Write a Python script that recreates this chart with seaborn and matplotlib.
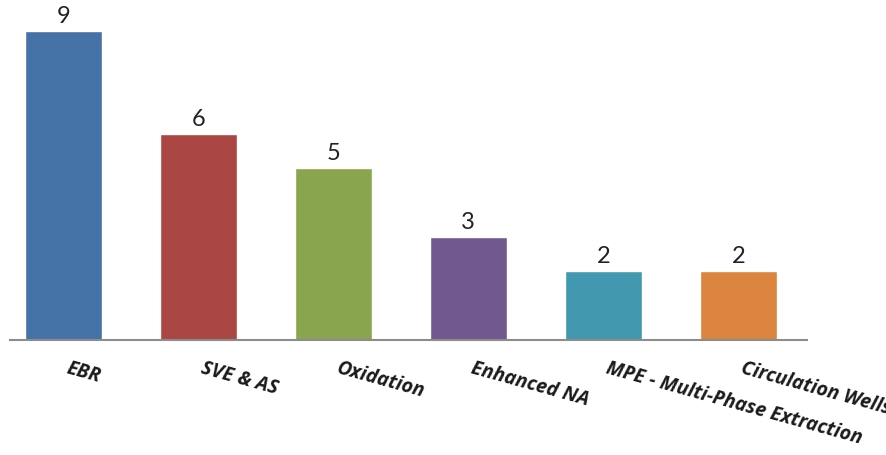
import matplotlib
matplotlib.use("Agg")
import matplotlib.pyplot as plt
import matplotlib.transforms as mtransforms
import seaborn as sns
import pandas as pd

# data
techniques = ["EBR", "SVE & AS", "Oxidation", "Enhanced NA",
              "MPE - Multi-Phase Extraction", "Circulation Wells"]
counts = [9, 6, 5, 3, 2, 2]
colors = ["#4572A7", "#AA4643", "#89A54E", "#71588F", "#4198AF", "#DB843D"]

df = pd.DataFrame({"technique": techniques, "count": counts})

sns.set_style("white")
plt.rcParams["font.family"] = ["Lato", "DejaVu Sans"]

fig = plt.figure(figsize=(8.87, 4.55), dpi=100)
ax = fig.add_axes([10 / 887, 115 / 455, 797 / 887, 340 / 455])

sns.barplot(data=df, x="technique", y="count", hue="technique",
            palette=colors, width=0.571, legend=False, ax=ax,
            saturation=1)

for c in ax.containers:
    ax.bar_label(c, padding=3, fontsize=17, color="#222222")

ax.set_xlim(-0.397, 5.51)
ax.set_ylim(0, 9.9)
ax.set_xlabel("")
ax.set_ylabel("")
ax.set_yticks([])
ax.set_xticks(range(len(techniques)))
ax.set_xticklabels(techniques, rotation=-15.5, ha="left", va="top",
                   rotation_mode="anchor", fontsize=14, family="Open Sans",
                   fontweight="bold", fontstyle="italic", color="#1a1a1a")
ax.tick_params(axis="x", length=0, pad=13)

# nudge labels a little to the right like the original
shift = mtransforms.ScaledTranslation(6 / 100, 0, fig.dpi_scale_trans)
for lab in ax.get_xticklabels():
    lab.set_transform(lab.get_transform() + shift)

for s in ["top", "right", "left"]:
    ax.spines[s].set_visible(False)
ax.spines["bottom"].set_color("#8c8c8c")
ax.spines["bottom"].set_linewidth(1.5)

fig.savefig("out.png", dpi=100)
